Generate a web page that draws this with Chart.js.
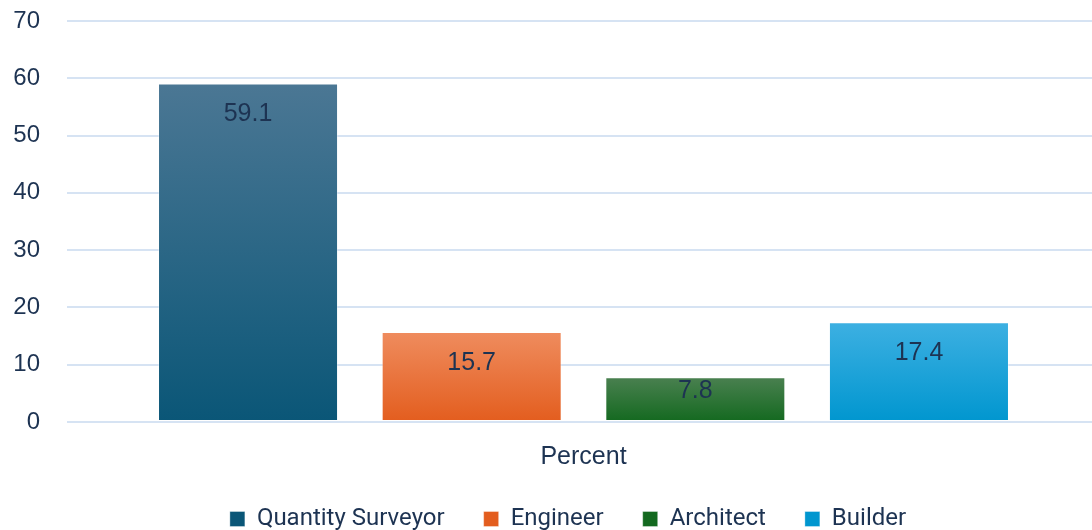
<!DOCTYPE html>
<html>
<head>
<meta charset="utf-8">
<script src="https://cdn.jsdelivr.net/npm/chart.js@4.4.1/dist/chart.umd.min.js"></script>
<style>
  html, body { margin: 0; padding: 0; background: #fff; overflow: hidden; }
  #wrap { width: 1092px; height: 530px; overflow: hidden; }
</style>
</head>
<body>
<div id="wrap"><canvas id="myChart" width="1100" height="541"></canvas></div>
<script>
// data
let categories = ["Percent"];
let seriesNames = ["Quantity Surveyor", "Engineer", "Architect", "Builder"];
let seriesValues = [59.1, 15.7, 7.8, 17.4];
let yTicks = [0, 10, 20, 30, 40, 50, 60, 70];

// top / bottom colours of each bar gradient
let topColors = ["#4b7794", "#ef8c5e", "#4a8050", "#3db0e2"];
let bottomColors = ["#0a5677", "#e35d1e", "#13691f", "#0096cf"];
let textColor = "#1d3352";

function gradientFor(i) {
  return function (c) {
    let chart = c.chart;
    let y = chart.scales && chart.scales.y;
    if (!chart.chartArea || !y) return bottomColors[i];
    let yTop = y.getPixelForValue(seriesValues[i]);
    let yBot = y.getPixelForValue(0);
    if (!isFinite(yTop) || !isFinite(yBot) || yTop === yBot) return bottomColors[i];
    let g = chart.ctx.createLinearGradient(0, yTop, 0, yBot);
    g.addColorStop(0, topColors[i]);
    g.addColorStop(1, bottomColors[i]);
    return g;
  };
}

// value labels inside the bars (pulled up on short bars)
let valueLabels = {
  id: "valueLabels",
  afterDatasetsDraw(chart) {
    let ctx = chart.ctx;
    ctx.save();
    ctx.font = "25px 'Liberation Sans', Arial, sans-serif";
    ctx.fillStyle = textColor;
    ctx.textAlign = "center";
    ctx.textBaseline = "middle";
    chart.data.datasets.forEach((ds, i) => {
      chart.getDatasetMeta(i).data.forEach((el, j) => {
        let off = Math.min(31, (el.base - el.y) / 2 - 8);
        ctx.fillText(ds.data[j].toFixed(1), el.x, el.y + off);
      });
    });
    ctx.restore();
  }
};

// legend sits a bit right of the canvas centre in the original
let legendShift = {
  id: "legendShift",
  afterLayout(chart) {
    if (chart.legend) {
      chart.legend.left += 18;
      chart.legend.right += 18;
    }
  }
};

let ctx = document.getElementById("myChart");
let myChart = new Chart(ctx, {
  type: "bar",
  data: {
    labels: categories,
    datasets: seriesNames.map((name, i) => ({
      label: name,
      data: [seriesValues[i]],
      backgroundColor: gradientFor(i),
      borderColor: "rgba(255,255,255,0.35)",
      borderWidth: 1,
      borderSkipped: false,
      barPercentage: 0.805,
      categoryPercentage: 0.866
    }))
  },
  plugins: [valueLabels, legendShift],
  options: {
    responsive: false,
    animation: false,
    layout: { padding: { top: 21, left: 0, right: 0, bottom: 0 } },
    scales: {
      x: {
        afterFit: s => {
          s.height = 46;
          s.paddingLeft = 0;
          s.paddingRight = 0;
        },
        grid: { display: false, drawTicks: false },
        border: { display: false },
        ticks: {
          color: textColor,
          padding: 20,
          font: { family: "'Liberation Sans', Arial, sans-serif", size: 25 }
        }
      },
      y: {
        min: 0,
        max: 70,
        afterFit: s => {
          s.width = 67;
          s.paddingTop = 0;
          s.paddingBottom = 0;
        },
        afterBuildTicks: s => { s.ticks = yTicks.map(v => ({ value: v })); },
        grid: { color: "#d6e3f3", lineWidth: 2, drawTicks: false },
        border: { display: false },
        ticks: {
          color: textColor,
          padding: 27,
          font: { family: "'Liberation Sans', Arial, sans-serif", size: 24 }
        }
      }
    },
    plugins: {
      tooltip: { enabled: false },
      legend: {
        position: "bottom",
        labels: {
          color: textColor,
          boxWidth: 15,
          boxHeight: 15,
          padding: 39,
          font: { family: "Roboto, sans-serif", size: 24 }
        }
      }
    }
  }
});
</script>
</body>
</html>
